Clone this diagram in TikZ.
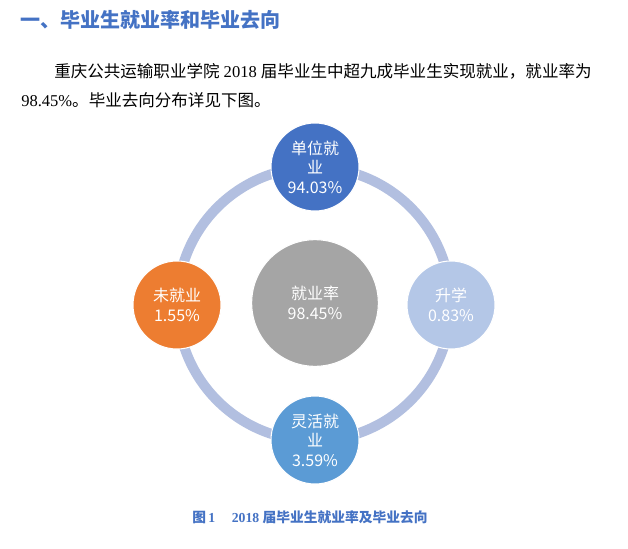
\documentclass[tikz,border=0pt]{standalone}
\usepackage{fontspec}
\setmainfont{Liberation Serif}
\newfontfamily\cjk{Noto Sans CJK SC}
\definecolor{titleblue}{HTML}{4472C4}
\definecolor{cTop}{HTML}{4472C4}
\definecolor{cBottom}{HTML}{5B9BD5}
\definecolor{cLeft}{HTML}{ED7D31}
\definecolor{cRight}{HTML}{B4C7E7}
\definecolor{cCenter}{HTML}{A5A5A5}
\definecolor{ringcol}{RGB}{178,191,224}
\tikzset{
  plaintext/.style={inner sep=0pt, anchor=west, font=\fontsize{12.4}{14}\selectfont},
  bubble/.style={circle, minimum size=66pt, inner sep=0pt, draw=white, line width=0.8pt,
    text=white, align=center, font=\cjk\fontsize{12}{14.6}\selectfont},
  bigbubble/.style={bubble, minimum size=95pt},
  ringline/.style={draw=ringcol, line width=7.5pt}
}
\begin{document}
\begin{tikzpicture}[x=0.75pt,y=-0.75pt]
\useasboundingbox (0,0) rectangle (628,549);
\fill[white] (0,0) rectangle (628,549);
% header text
\node[inner sep=0pt, anchor=west, text=titleblue, font=\cjk\bfseries\fontsize{15}{18}\selectfont] (title) at (20,20) {一、毕业生就业率和毕业去向};
\node[plaintext] (line1) at (54,71) {{\cjk 重庆公共运输职业学院} 2018 {\cjk 届毕业生中超九成毕业生实现就业，就业率为}};
\node[plaintext] (line2) at (21,100) {98.45\%{\cjk 。毕业去向分布详见下图。}};
% ring
\coordinate (ringc) at (314,304);
\draw[ringline] (ringc) circle[radius=102.5pt];
% bubbles
\node[bigbubble, fill=cCenter] (center) at (315,303) {就业率\\98.45\%};
\node[bubble, fill=cTop] (top) at (315,167) {单位就\\业\\94.03\%};
\node[bubble, fill=cBottom] (bottom) at (315,440) {灵活就\\业\\3.59\%};
\node[bubble, fill=cLeft] (left) at (177,305) {未就业\\1.55\%};
\node[bubble, fill=cRight] (right) at (451,305) {升学\\0.83\%};
% caption
\node[inner sep=0pt, text=titleblue, font=\bfseries\fontsize{10.3}{12}\selectfont] (caption) at (310,517) {{\cjk 图}\,1\hspace{1.2em}2018 {\cjk 届毕业生就业率及毕业去向}};
\end{tikzpicture}
\end{document}
